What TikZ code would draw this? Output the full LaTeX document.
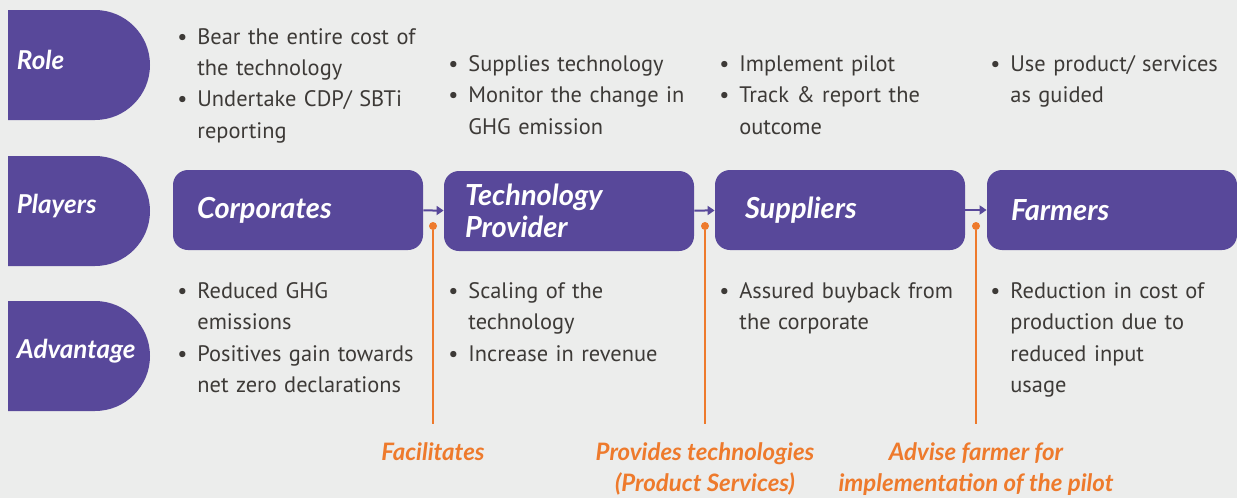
\documentclass[tikz,border=0pt]{standalone}
\usepackage{fontspec}
\setmainfont{PT Sans}
\newfontfamily\headfont{Lato}
\usetikzlibrary{arrows.meta, positioning, shapes.misc}
\definecolor{Purple}{HTML}{58489A}
\definecolor{Orange}{HTML}{EE7A2C}
\definecolor{Paper}{HTML}{ECEDEC}
\definecolor{Ink}{HTML}{3D3A37}
\newcommand{\itm}[1]{\noindent\hangindent=10pt\hangafter=1\makebox[10pt][l]{\textbullet}#1\par}

\begin{document}
\begin{tikzpicture}[x=0.5pt, y=-0.5pt,
  tab/.style={rounded rectangle, rounded rectangle left arc=none, fill=Purple,
              minimum width=71pt, minimum height=55pt, inner sep=0pt},
  tablbl/.style={anchor=west, text=white, inner sep=0pt,
                 font=\headfont\fontsize{13}{14}\selectfont\bfseries\itshape},
  player/.style={fill=Purple, rounded corners=7.5pt, minimum width=125pt,
                 minimum height=40pt, text width=101pt, inner xsep=12pt, align=left,
                 text=white, font=\headfont\fontsize{14.5}{16}\selectfont\bfseries\itshape},
  note/.style={anchor=base west, inner sep=0pt, text width=130pt, align=left,
               text=Ink, font=\fontsize{11.2}{15.75}\selectfont},
  flow/.style={-{Triangle[length=3.5pt, width=4.5pt]}, line width=1pt, Purple},
  tie/.style={Orange, line width=1.2pt},
  dot/.style={circle, fill=Orange, inner sep=0pt, minimum size=4pt},
  why/.style={anchor=base, align=center, text=Orange, inner sep=0pt,
              font=\headfont\fontsize{12}{15.5}\selectfont\bfseries\itshape},
]
\fill[Paper] (0,0) rectangle (1237,498);
\useasboundingbox (0,0) rectangle (1237,498);

% row tabs
\node[tab] (role) at (79,65) {};
\node[tab] (players) at (79,211) {};
\node[tab] (adv) at (79,356) {};
\node[tablbl, yshift=2.5pt] (roleT) at ([xshift=4.5pt]role.west) {Role};
\node[tablbl, yshift=2.5pt] (playersT) at ([xshift=4.5pt]players.west) {Players};
\node[tablbl, yshift=2.5pt] (advT) at ([xshift=4.5pt]adv.west) {Advantage};

% players
\node[player] (corp) at (298,210) {Corporates};
\node[player] (tech) at (569,211) {\hspace*{-1.5pt}Technology\\\hspace*{-1.5pt}Provider};
\node[player] (supp) at (840,210) {\hspace*{3pt}Suppliers};
\node[player] (farm) at (1112,210) {Farmers};
\draw[flow] (corp) -- (tech);
\draw[flow] (tech) -- (supp);
\draw[flow] (supp) -- (farm);

% role
\node[note] (role1) at (177,44) {\itm{Bear the entire cost of\newline the technology}\itm{Undertake CDP/ SBTi\newline reporting}};
\node[note] (role2) at (448,71) {\itm{Supplies technology}\itm{Monitor the change in\newline GHG emission}};
\node[note] (role3) at (719,71) {\itm{Implement pilot}\itm{Track \& report the\newline outcome}};
\node[note] (role4) at (990,71) {\itm{Use product/ services\newline as guided}};

% advantage
\node[note] (adv1) at (177,298) {\itm{Reduced GHG\newline emissions}\itm{Positives gain towards\newline net zero declarations}};
\node[note] (adv2) at (448,298) {\itm{Scaling of the\newline technology}\itm{Increase in revenue}};
\node[note] (adv3) at (719,298) {\itm{Assured buyback from\newline the corporate}};
\node[note] (adv4) at (990,298) {\itm{Reduction in cost of\newline production due to\newline reduced input\newline usage}};

% links
\node[dot] (d1) at (433,226) {};
\node[dot] (d2) at (705,226) {};
\node[dot] (d3) at (976,226) {};
\coordinate (e1) at (433,424);
\coordinate (e2) at (705,424);
\coordinate (e3) at (976,424);
\draw[tie] (d1) -- (e1);
\draw[tie] (d2) -- (e2);
\draw[tie] (d3) -- (e3);
\node[why] (w1) at (433,460) {Facilitates};
\node[why] (w2) at (705,491) {Provides technologies\\(Product Services)};
\node[why] (w3) at (976,491) {Advise farmer for\\implementation of the pilot};
\end{tikzpicture}
\end{document}
